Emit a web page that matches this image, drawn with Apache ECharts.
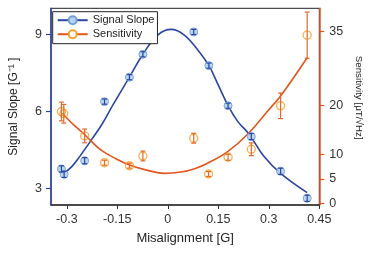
<!DOCTYPE html>
<html><head><meta charset="utf-8">
<script src="https://cdn.jsdelivr.net/npm/echarts@6/dist/echarts.min.js"></script>
<style>html,body{margin:0;padding:0;background:#fff}#c{width:375px;height:253px}</style>
</head><body><div id="c"></div>
<script>
// tick labels
const xTicks = [-0.3, -0.15, 0, 0.15, 0.3, 0.45];
const slopeTicks = [3, 6, 9];
const sensTicks = [0, 5, 10, 20, 35];

// measured points: Signal Slope [G^-1]
const slopeX = [-0.316, -0.308, -0.247, -0.188, -0.114, -0.074, 0.077, 0.122, 0.179, 0.248, 0.335, 0.414];
const slopeY = [3.76, 3.55, 4.08, 6.38, 7.33, 8.22, 9.09, 7.78, 6.22, 5.02, 3.67, 2.62];
const slopeErr = [0.12, 0.12, 0.12, 0.1, 0.1, 0.1, 0.1, 0.1, 0.1, 0.12, 0.12, 0.12];

// measured points: Sensitivity [uT/sqrtHz]
const sensX = [-0.316, -0.309, -0.247, -0.188, -0.114, -0.074, 0.077, 0.121, 0.179, 0.248, 0.335, 0.414];
const sensY = [18.75, 18.28, 13.77, 8.31, 7.70, 9.68, 13.3, 6.0, 9.41, 11.05, 19.9, 34.3];
const sensErr = [1.9, 1.9, 1.4, 0.5, 0.5, 1.0, 1.0, 0.5, 0.6, 1.3, 2.6, 4.7];

// fitted curves
const slopeFitX = [-0.31, -0.286, -0.262, -0.227, -0.197, -0.163, -0.114, -0.074, -0.03, 0.01, 0.049, 0.089, 0.122, 0.148, 0.179, 0.207, 0.241, 0.286, 0.335, 0.414];
const slopeFitY = [3.58, 3.84, 4.24, 4.89, 5.47, 6.25, 7.33, 8.22, 8.97, 9.19, 8.97, 8.39, 7.78, 7.08, 6.22, 5.62, 5.12, 4.24, 3.59, 2.84];
const sensFitX = [-0.313, -0.296, -0.272, -0.247, -0.232, -0.197, -0.155, -0.114, -0.06, -0.01, 0.039, 0.08, 0.118, 0.178, 0.237, 0.30, 0.335, 0.414];
const sensFitY = [18.4, 17.1, 15.55, 14.05, 13.0, 10.8, 9.15, 7.84, 6.75, 6.14, 6.4, 7.09, 8.19, 10.56, 14.1, 19.1, 21.9, 29.7];

const FONT = 'Liberation Sans, Arial, sans-serif';
const BLUE = '#2a45a3';
const BLUE_FILL = '#b7d3ee';
const BLUE_EDGE = '#6f9fd6';
const ORANGE = '#e2561c';
const ORANGE_MK = '#f5a02e';
const ORANGE_ERR = '#e56a2c';

function zip(a, b) { return a.map((v, i) => [v, b[i]]); }

function errSeries(xs, ys, errs, yIdx, color, name) {
  return {
    type: 'custom', name: name, yAxisIndex: yIdx, z: 5, silent: true,
    data: xs.map((x, i) => [x, ys[i] - errs[i], ys[i] + errs[i]]),
    encode: { x: 0, y: [1, 2] },
    renderItem(params, api) {
      const lo = api.coord([api.value(0), api.value(1)]);
      const hi = api.coord([api.value(0), api.value(2)]);
      const w = 2.5;
      const st = { stroke: color, lineWidth: 1.2 };
      return { type: 'group', children: [
        { type: 'line', shape: { x1: lo[0], y1: lo[1], x2: hi[0], y2: hi[1] }, style: st },
        { type: 'line', shape: { x1: lo[0] - w, y1: lo[1], x2: lo[0] + w, y2: lo[1] }, style: st },
        { type: 'line', shape: { x1: hi[0] - w, y1: hi[1], x2: hi[0] + w, y2: hi[1] }, style: st }
      ] };
    }
  };
}

const chart = echarts.init(document.getElementById('c'), null, { renderer: 'canvas' });
chart.setOption({
  animation: false,
  textStyle: { fontFamily: FONT },
  grid: { left: 49.3, right: 55.7, top: 8.3, bottom: 48, show: true, borderColor: '#222', borderWidth: 1, backgroundColor: 'transparent' },
  legend: {
    left: 52.7, top: 11.7, orient: 'vertical',
    backgroundColor: '#fff', borderColor: '#222', borderWidth: 1,
    padding: [3, 3, 4, 4], itemWidth: 30, itemHeight: 10, itemGap: 3,
    textStyle: { fontSize: 11, color: '#222', fontFamily: FONT },
    data: ['Signal Slope', 'Sensitivity']
  },
  xAxis: {
    type: 'value', min: -0.347, max: 0.45,
    name: 'Misalignment [G]', nameLocation: 'middle', nameGap: 27,
    nameTextStyle: { fontSize: 13, color: '#222', fontFamily: FONT },
    axisLine: { onZero: false, lineStyle: { color: '#333', width: 1.5 } },
    axisTick: { show: true, length: 4, customValues: xTicks, lineStyle: { color: '#333' } },
    axisLabel: { customValues: xTicks, fontSize: 12.5, color: '#333', margin: 8, fontFamily: FONT,
      formatter: v => String(Math.round(v * 100) / 100) },
    splitLine: { show: false }
  },
  yAxis: [{
    type: 'value', min: 2.358, max: 10.01, position: 'left',
    name: 'Signal Slope [G⁻¹ ]', nameLocation: 'middle', nameGap: 31,
    nameTextStyle: { fontSize: 12, color: '#222', fontFamily: FONT },
    axisLine: { show: true, onZero: false, lineStyle: { color: BLUE, width: 1.5 } },
    axisTick: { show: true, length: 5, customValues: slopeTicks, lineStyle: { color: BLUE, width: 1.2 } },
    axisLabel: { customValues: slopeTicks, fontSize: 12.5, color: '#333', margin: 9, fontFamily: FONT },
    splitLine: { show: false }
  }, {
    type: 'value', min: -0.31, max: 39.77, position: 'right',
    name: 'Sensitivity [μT/√Hz]', nameLocation: 'middle', nameGap: 26, nameRotate: -90,
    nameTextStyle: { fontSize: 9.8, color: '#222', fontFamily: FONT, padding: [0, 18, 0, 0] },
    axisLine: { show: true, onZero: false, lineStyle: { color: ORANGE, width: 1.5 } },
    axisTick: { show: true, length: 5, customValues: sensTicks, lineStyle: { color: ORANGE, width: 1.2 } },
    axisLabel: { customValues: sensTicks, fontSize: 12.5, color: '#333', margin: 10, fontFamily: FONT },
    splitLine: { show: false }
  }],
  series: [
    {
      name: 'Signal Slope', type: 'line', yAxisIndex: 0, data: zip(slopeFitX, slopeFitY),
      smooth: 0.4, showSymbol: false, symbol: 'circle', symbolSize: 9, z: 3,
      itemStyle: { color: BLUE_FILL, borderColor: BLUE_EDGE, borderWidth: 1 },
      lineStyle: { color: BLUE, width: 1.6 }
    },
    {
      name: 'Sensitivity', type: 'line', yAxisIndex: 1, data: zip(sensFitX, sensFitY),
      smooth: 0.4, showSymbol: false, symbol: 'circle', symbolSize: 9, z: 3,
      itemStyle: { color: '#fff', borderColor: ORANGE_MK, borderWidth: 1.3 },
      lineStyle: { color: ORANGE, width: 1.6 }
    },
    {
      name: 'slope data', type: 'scatter', yAxisIndex: 0, data: zip(slopeX, slopeY),
      symbol: 'circle', symbolSize: 8, z: 4,
      itemStyle: { color: BLUE_FILL, borderColor: BLUE_EDGE, borderWidth: 1, opacity: 0.9 }
    },
    {
      name: 'sens data', type: 'scatter', yAxisIndex: 1, data: zip(sensX, sensY),
      symbol: 'circle', symbolSize: 8, z: 4,
      itemStyle: { color: 'rgba(255,255,255,0)', borderColor: ORANGE_MK, borderWidth: 1.4 }
    },
    errSeries(slopeX, slopeY, slopeErr, 0, BLUE, 'slope err'),
    errSeries(sensX, sensY, sensErr, 1, ORANGE_ERR, 'sens err')
  ]
});
</script>
</body></html>
